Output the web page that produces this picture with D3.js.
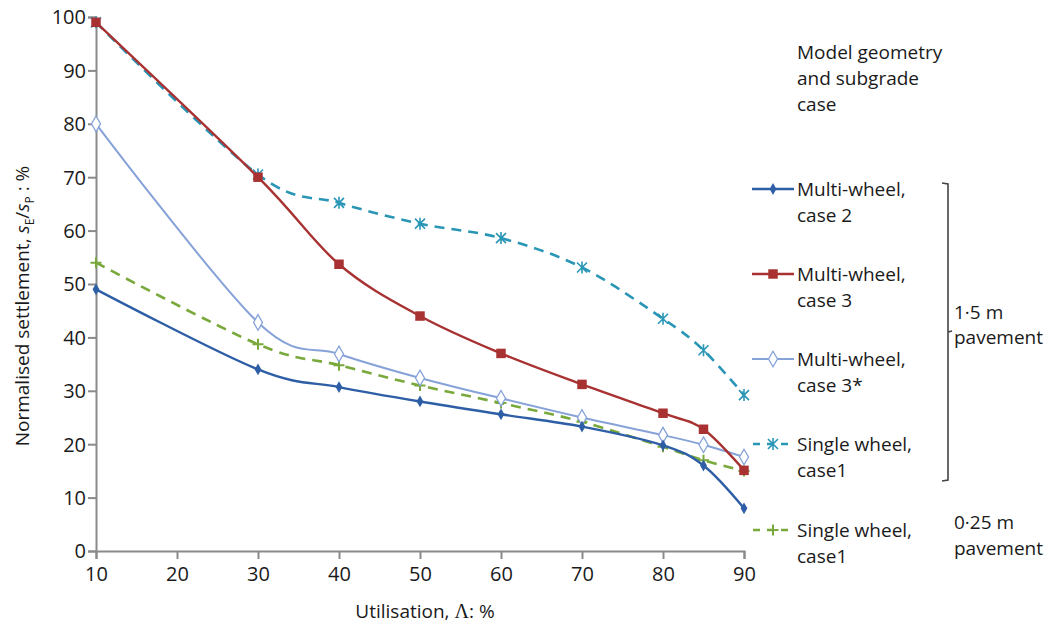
<!DOCTYPE html>
<html>
<head>
<meta charset="utf-8">
<script src="https://cdn.jsdelivr.net/npm/d3@7"></script>
<style>
  html, body { margin: 0; padding: 0; background: #fff; }
  svg { display: block; font-family: "Open Sans", "Noto Sans", sans-serif; }
</style>
</head>
<body>
<svg id="chart" width="1047" height="625"></svg>
<script>
// ---- data ----
const utilisation = [10, 30, 40, 50, 60, 70, 80, 85, 90];
const multiWheelCase2 = [49, 34, 30.7, 28, 25.6, 23.3, 19.8, 16, 8];
const multiWheelCase3 = [99, 70, 53.7, 44, 37, 31.2, 25.8, 22.8, 15.1];
const multiWheelCase3s = [80, 42.8, 36.9, 32.4, 28.6, 25, 21.7, 19.9, 17.6];
const singleWheel15 = [99, 70.5, 65.2, 61.3, 58.6, 53.1, 43.5, 37.6, 29.2];
const singleWheel025 = [54, 38.7, 34.8, 31, 27.7, 24.2, 19.5, 17, 15];
const xTicks = [10, 20, 30, 40, 50, 60, 70, 80, 90];
const yTicks = [0, 10, 20, 30, 40, 50, 60, 70, 80, 90, 100];
const seriesNames = [["Multi-wheel,", "case 2"], ["Multi-wheel,", "case 3"], ["Multi-wheel,", "case 3*"], ["Single wheel,", "case1"], ["Single wheel,", "case1"]];
const legendTitle = ["Model geometry", "and subgrade", "case"];

const series = [
  {name: seriesNames[0], values: multiWheelCase2, color: "#2e5ea6", marker: "diamondSmall", dash: null, width: 2.4},
  {name: seriesNames[1], values: multiWheelCase3, color: "#a83232", marker: "square", dash: null, width: 2.4},
  {name: seriesNames[2], values: multiWheelCase3s, color: "#86a2d8", marker: "diamondOpen", dash: null, width: 2},
  {name: seriesNames[3], values: singleWheel15, color: "#2a96b6", marker: "asterisk", dash: "10,7", width: 2.6},
  {name: seriesNames[4], values: singleWheel025, color: "#79a83b", marker: "plus", dash: "10,7", width: 2.6}
];

const svg = d3.select("#chart");
const x = d3.scaleLinear().domain([10, 90]).range([96, 744]);
const y = d3.scaleLinear().domain([0, 100]).range([551, 17]);
const axisColor = "#8a8a8a";
const textColor = "#1a1a1a";

// axes
const yAxis = svg.append("g").attr("transform", "translate(96,0)")
  .call(d3.axisLeft(y).tickValues(yTicks).tickSize(8).tickPadding(2).tickFormat(d3.format("d")));
const xAxis = svg.append("g").attr("transform", "translate(0,551)")
  .call(d3.axisBottom(x).tickValues(xTicks).tickSize(8).tickPadding(8).tickFormat(d3.format("d")));
[yAxis, xAxis].forEach(g => {
  g.select(".domain").attr("stroke", axisColor).attr("stroke-width", 2);
  g.selectAll(".tick line").attr("stroke", axisColor).attr("stroke-width", 2);
  g.selectAll(".tick text").attr("fill", textColor).style("font-size", "20px").style("font-family", "Open Sans");
});
yAxis.selectAll(".tick text").attr("dy", "0.34em");

// axis titles
const xt = svg.append("text").attr("x", 425).attr("y", 618).attr("text-anchor", "middle")
  .attr("fill", textColor).style("font-size", "19px");
xt.append("tspan").text("Utilisation, ");
xt.append("tspan").style("font-family", "Liberation Serif").style("font-size", "20px").text("Λ");
xt.append("tspan").text(": %");

const yt = svg.append("text").attr("transform", "translate(29,306) rotate(-90)")
  .attr("text-anchor", "middle").attr("fill", textColor).style("font-size", "19px");
yt.append("tspan").text("Normalised settlement, ");
yt.append("tspan").attr("font-style", "italic").text("s");
yt.append("tspan").attr("dy", 5).style("font-size", "12px").text("E");
yt.append("tspan").attr("dy", -5).text("/");
yt.append("tspan").attr("font-style", "italic").text("s");
yt.append("tspan").attr("dy", 5).style("font-size", "12px").text("P");
yt.append("tspan").attr("dy", -5).text(" : %");

// marker drawing
function drawMarker(g, type, color, cx, cy) {
  if (type === "diamondSmall") {
    g.append("path").attr("d", d3.symbol(d3.symbolDiamond, 40)()).attr("transform", `translate(${cx},${cy})`).attr("fill", color);
  } else if (type === "square") {
    g.append("path").attr("d", d3.symbol(d3.symbolSquare, 90)()).attr("transform", `translate(${cx},${cy})`).attr("fill", color);
  } else if (type === "diamondOpen") {
    g.append("path").attr("d", d3.symbol(d3.symbolDiamond, 70)()).attr("transform", `translate(${cx},${cy})`).attr("fill", "#fff").attr("stroke", color).attr("stroke-width", 1.3);
  } else if (type === "asterisk") {
    const r = 5;
    g.append("path").attr("d", `M${-r},${-r}L${r},${r}M${-r},${r}L${r},${-r}M0,${-r - 1}L0,${r + 1}`)
      .attr("transform", `translate(${cx},${cy})`).attr("stroke", color).attr("stroke-width", 1.6).attr("fill", "none");
  } else if (type === "plus") {
    const r = 5.5;
    g.append("path").attr("d", `M${-r},0L${r},0M0,${-r}L0,${r}`)
      .attr("transform", `translate(${cx},${cy})`).attr("stroke", color).attr("stroke-width", 2).attr("fill", "none");
  }
}

// lines
const line = d3.line().curve(d3.curveCatmullRom.alpha(0)).x(d => x(d[0])).y(d => y(d[1]));
const order = [4, 3, 2, 0, 1];
order.forEach(i => {
  const s = series[i];
  const pts = utilisation.map((u, k) => [u, s.values[k]]);
  const g = svg.append("g");
  g.append("path").attr("d", line(pts)).attr("fill", "none").attr("stroke", s.color)
    .attr("stroke-width", s.width).attr("stroke-dasharray", s.dash);
  pts.forEach(p => drawMarker(g, s.marker, s.color, x(p[0]), y(p[1])));
});

// legend
const lg = svg.append("g").style("font-size", "19px").attr("fill", textColor);
legendTitle.forEach((t, i) => lg.append("text").attr("x", 797).attr("y", 59 + i * 26).text(t));
const legendY = [189, 274, 359, 444, 530];
series.forEach((s, i) => {
  const ly = legendY[i];
  lg.append("line").attr("x1", 752).attr("x2", 794).attr("y1", ly).attr("y2", ly)
    .attr("stroke", s.color).attr("stroke-width", s.width).attr("stroke-dasharray", s.dash ? "7,7" : null)
    .attr("stroke-dashoffset", s.dash ? -1 : null);
  drawMarker(lg, s.marker, s.color, 773, ly);
  lg.append("text").attr("x", 797).attr("y", ly + 7).text(s.name[0]);
  lg.append("text").attr("x", 797).attr("y", ly + 33).text(s.name[1]);
});

// bracket
svg.append("path").attr("d", "M942,183L948,184L948,480L942,481M948,332L952,331")
  .attr("fill", "none").attr("stroke", "#444").attr("stroke-width", 1.6);
const bt = svg.append("g").style("font-size", "19px").attr("fill", textColor);
bt.append("text").attr("x", 954).attr("y", 319).text("1·5 m");
bt.append("text").attr("x", 954).attr("y", 344).text("pavement");
bt.append("text").attr("x", 954).attr("y", 529).text("0·25 m");
bt.append("text").attr("x", 954).attr("y", 555).text("pavement");
</script>
</body>
</html>
